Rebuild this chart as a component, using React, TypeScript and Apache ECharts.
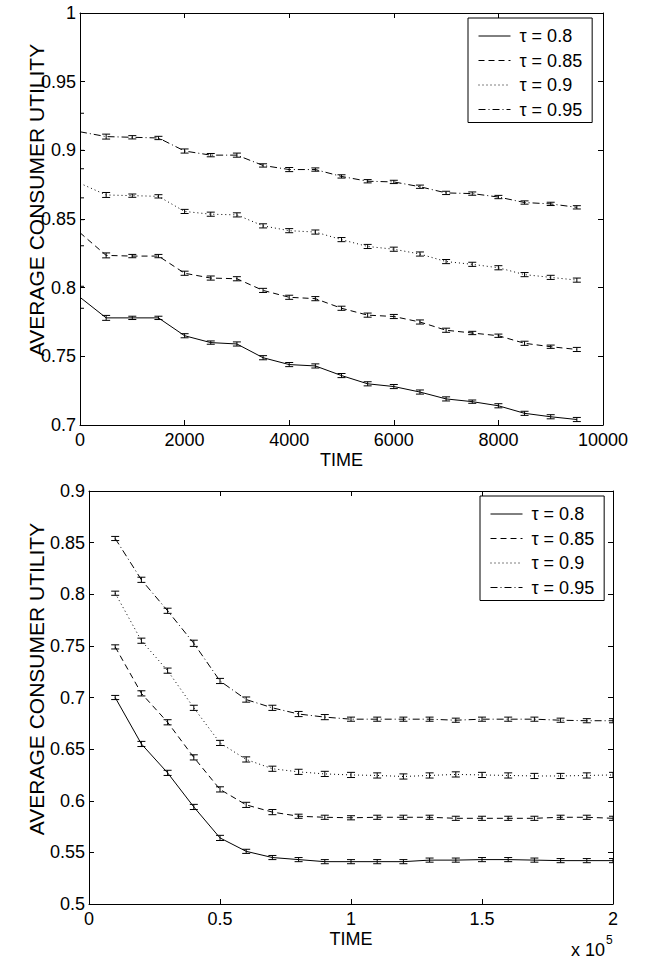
import React, { useEffect, useRef } from "react";
import * as echarts from "echarts";

// ---------- Data ----------
const seriesNames = ["τ = 0.8", "τ = 0.85", "τ = 0.9", "τ = 0.95"];

// Top panel: time 0 .. 9500
const timeTop = [0, 500, 1000, 1500, 2000, 2500, 3000, 3500, 4000, 4500, 5000, 5500, 6000, 6500, 7000, 7500, 8000, 8500, 9000, 9500];
const top080 = [0.793, 0.778, 0.778, 0.778, 0.765, 0.760, 0.759, 0.749, 0.744, 0.743, 0.736, 0.730, 0.728, 0.724, 0.719, 0.717, 0.714, 0.7085, 0.706, 0.704];
const top085 = [0.840, 0.8235, 0.823, 0.823, 0.8105, 0.807, 0.8065, 0.798, 0.793, 0.792, 0.785, 0.780, 0.779, 0.775, 0.769, 0.767, 0.765, 0.7595, 0.757, 0.755];
const top090 = [0.876, 0.8675, 0.867, 0.8665, 0.8555, 0.8535, 0.853, 0.845, 0.8415, 0.8405, 0.835, 0.830, 0.828, 0.8245, 0.819, 0.817, 0.8145, 0.8095, 0.8075, 0.8055];
const top095 = [0.9135, 0.910, 0.9095, 0.909, 0.8995, 0.8965, 0.8965, 0.889, 0.886, 0.886, 0.881, 0.8775, 0.877, 0.8735, 0.869, 0.8685, 0.866, 0.862, 0.861, 0.8585];
const topErr080 = [0.008, 0.0018, 0.0012, 0.0012, 0.0015, 0.0012, 0.0015, 0.0015, 0.0015, 0.0015, 0.0015, 0.0015, 0.0015, 0.0015, 0.0015, 0.0012, 0.0015, 0.0015, 0.0015, 0.0015];
const topErr085 = [0.0095, 0.0018, 0.0012, 0.0012, 0.0015, 0.0015, 0.0015, 0.0015, 0.0015, 0.0015, 0.0015, 0.0015, 0.0015, 0.0015, 0.0015, 0.0012, 0.0012, 0.0015, 0.0012, 0.0015];
const topErr090 = [0.0106, 0.0018, 0.0012, 0.0012, 0.0015, 0.0015, 0.0015, 0.0015, 0.0015, 0.0015, 0.0015, 0.0015, 0.0015, 0.0015, 0.0015, 0.0015, 0.0015, 0.0015, 0.0015, 0.0015];
const topErr095 = [0.0135, 0.0018, 0.0012, 0.0012, 0.0015, 0.0012, 0.0015, 0.0012, 0.0015, 0.0012, 0.0012, 0.0012, 0.0012, 0.0012, 0.0012, 0.0012, 0.0012, 0.0012, 0.0012, 0.0012];

// Bottom panel: time 1e4 .. 2e5
const timeBottom = [10000, 20000, 30000, 40000, 50000, 60000, 70000, 80000, 90000, 100000, 110000, 120000, 130000, 140000, 150000, 160000, 170000, 180000, 190000, 200000];
const bot080 = [0.700, 0.655, 0.627, 0.594, 0.564, 0.551, 0.545, 0.543, 0.541, 0.541, 0.541, 0.541, 0.5425, 0.5425, 0.543, 0.543, 0.5425, 0.542, 0.542, 0.542];
const bot085 = [0.749, 0.704, 0.676, 0.642, 0.611, 0.596, 0.589, 0.585, 0.584, 0.5835, 0.584, 0.584, 0.584, 0.583, 0.583, 0.583, 0.583, 0.584, 0.584, 0.583];
const bot090 = [0.801, 0.755, 0.726, 0.690, 0.656, 0.640, 0.631, 0.628, 0.626, 0.625, 0.6245, 0.6235, 0.6245, 0.6255, 0.625, 0.6245, 0.624, 0.624, 0.6245, 0.625];
const bot095 = [0.854, 0.814, 0.784, 0.7525, 0.716, 0.698, 0.690, 0.684, 0.681, 0.679, 0.679, 0.679, 0.679, 0.678, 0.679, 0.679, 0.679, 0.678, 0.6775, 0.6775];
const botErr080 = [0.002, 0.0025, 0.0025, 0.0025, 0.0025, 0.002, 0.002, 0.002, 0.002, 0.002, 0.002, 0.002, 0.002, 0.002, 0.002, 0.002, 0.002, 0.002, 0.002, 0.002];
const botErr085 = [0.002, 0.0025, 0.0025, 0.0025, 0.0025, 0.0025, 0.0025, 0.002, 0.002, 0.002, 0.002, 0.002, 0.002, 0.002, 0.002, 0.002, 0.002, 0.002, 0.002, 0.002];
const botErr090 = [0.002, 0.0025, 0.0025, 0.0025, 0.0025, 0.0025, 0.0025, 0.0025, 0.0025, 0.0025, 0.0025, 0.0025, 0.0025, 0.0025, 0.0025, 0.0025, 0.0025, 0.0025, 0.0025, 0.0025];
const botErr095 = [0.002, 0.0025, 0.0025, 0.003, 0.0025, 0.0025, 0.0025, 0.0025, 0.0025, 0.002, 0.002, 0.002, 0.002, 0.002, 0.002, 0.002, 0.002, 0.002, 0.002, 0.002];

const yTitle = "AVERAGE CONSUMER UTILITY";
const xTitle = "TIME";

// ---------- Styles ----------
const FONT = "'Liberation Sans', Arial, Helvetica, sans-serif";
const dashTypes: any[] = ["solid", [6, 4], [1, 3], [7, 3, 1, 3]];

function lineSeries(name: string, xs: number[], ys: number[], idx: number, dash: any) {
  return {
    type: "line",
    name,
    xAxisIndex: idx,
    yAxisIndex: idx,
    data: xs.map((x, i) => [x, ys[i]]),
    symbol: "none",
    showSymbol: false,
    color: "#000",
    lineStyle: { color: "#000", width: 1, type: dash },
    itemStyle: { color: "#000" },
    z: 2,
    clip: true,
  };
}

function errSeries(xs: number[], ys: number[], es: number[], idx: number) {
  return {
    type: "custom",
    xAxisIndex: idx,
    yAxisIndex: idx,
    clip: true,
    silent: true,
    z: 3,
    encode: { x: 0, y: 1 },
    data: xs.map((x, i) => [x, ys[i], es[i]]),
    renderItem: (params: any, api: any) => {
      const x = api.value(0);
      const y = api.value(1);
      const e = api.value(2);
      const hi = api.coord([x, y + e]);
      const lo = api.coord([x, y - e]);
      const w = 4;
      const st = { stroke: "#000", lineWidth: 1, fill: null };
      return {
        type: "group",
        children: [
          { type: "line", shape: { x1: hi[0], y1: hi[1], x2: lo[0], y2: lo[1] }, style: st },
          { type: "line", shape: { x1: hi[0] - w, y1: hi[1], x2: hi[0] + w, y2: hi[1] }, style: st },
          { type: "line", shape: { x1: lo[0] - w, y1: lo[1], x2: lo[0] + w, y2: lo[1] }, style: st },
        ],
      };
    },
  };
}

function axisPair(gridIndex: number, min: number, max: number, interval: number, fmt: (v: number) => string) {
  const base = {
    type: "value",
    gridIndex,
    min,
    max,
    interval,
    splitLine: { show: false },
    axisLine: { show: true, onZero: false, lineStyle: { color: "#000", width: 1 } },
    axisTick: { show: true, inside: true, length: 5, lineStyle: { color: "#000" } },
  };
  return [
    {
      ...base,
      position: "bottom",
      axisLabel: {
        show: true,
        color: "#000",
        fontSize: 18,
        fontFamily: FONT,
        margin: 6,
        formatter: fmt,
      },
    },
    { ...base, position: "top", axisLabel: { show: false } },
  ];
}

function yAxisPair(gridIndex: number, min: number, max: number, interval: number) {
  const base = {
    type: "value",
    gridIndex,
    min,
    max,
    interval,
    splitLine: { show: false },
    axisLine: { show: true, onZero: false, lineStyle: { color: "#000", width: 1 } },
    axisTick: { show: true, inside: true, length: 5, lineStyle: { color: "#000" } },
  };
  return [
    {
      ...base,
      position: "left",
      axisLabel: { show: true, color: "#000", fontSize: 18, fontFamily: FONT, margin: 4 },
    },
    { ...base, position: "right", axisLabel: { show: false } },
  ];
}

function legendAt(left: number, top: number) {
  return {
    show: true,
    orient: "vertical",
    left,
    top,
    data: seriesNames,
    selectedMode: false,
    backgroundColor: "#fff",
    borderColor: "#000",
    borderWidth: 1,
    padding: [9, 10, 4, 10],
    itemWidth: 32,
    itemHeight: 14,
    itemGap: 6.5,
    itemStyle: { opacity: 0, borderWidth: 0 },
    lineStyle: { color: "#000", width: 1 },
    textStyle: { color: "#000", fontSize: 18, fontFamily: FONT, padding: [0, 0, 0, 4] },
  };
}

export default function App() {
  const ref = useRef<HTMLDivElement>(null);

  useEffect(() => {
    if (!ref.current) return;
    const chart = echarts.init(ref.current, undefined, { renderer: "svg" });

    const topX = axisPair(0, 0, 10000, 2000, (v: number) => String(v));
    const botX = axisPair(1, 0, 200000, 50000, (v: number) => String(v / 100000));
    const topY = yAxisPair(0, 0.7, 1, 0.05);
    const botY = yAxisPair(1, 0.5, 0.9, 0.05);

    const topYs = [top080, top085, top090, top095];
    const topEs = [topErr080, topErr085, topErr090, topErr095];
    const botYs = [bot080, bot085, bot090, bot095];
    const botEs = [botErr080, botErr085, botErr090, botErr095];

    const series: any[] = [];
    seriesNames.forEach((n, i) => series.push(lineSeries(n, timeTop, topYs[i], 0, dashTypes[i])));
    seriesNames.forEach((n, i) => series.push(lineSeries(n, timeBottom, botYs[i], 2, dashTypes[i])));
    seriesNames.forEach((n, i) => series.push(errSeries(timeTop, topYs[i], topEs[i], 0)));
    seriesNames.forEach((n, i) => series.push(errSeries(timeBottom, botYs[i], botEs[i], 2)));

    const option: any = {
      animation: false,
      backgroundColor: "#fff",
      textStyle: { fontFamily: FONT },
      grid: [
        { left: 80, top: 13, width: 523, height: 412, containLabel: false },
        { left: 89, top: 491, width: 524, height: 413, containLabel: false },
      ],
      xAxis: [topX[0], topX[1], botX[0], botX[1]],
      yAxis: [topY[0], topY[1], botY[0], botY[1]],
      legend: [legendAt(468, 18), legendAt(480, 496)],
      series,
      graphic: [
        {
          type: "text",
          x: 36,
          y: 200,
          rotation: Math.PI / 2,
          style: { text: yTitle, fontSize: 21, fontFamily: FONT, fill: "#000", align: "center", verticalAlign: "middle" },
        },
        {
          type: "text",
          x: 36,
          y: 679,
          rotation: Math.PI / 2,
          style: { text: yTitle, fontSize: 21, fontFamily: FONT, fill: "#000", align: "center", verticalAlign: "middle" },
        },
        {
          type: "text",
          x: 341.5,
          y: 460,
          style: { text: xTitle, fontSize: 18, fontFamily: FONT, fill: "#000", align: "center", verticalAlign: "middle" },
        },
        {
          type: "text",
          x: 351,
          y: 939,
          style: { text: xTitle, fontSize: 18, fontFamily: FONT, fill: "#000", align: "center", verticalAlign: "middle" },
        },
        {
          type: "text",
          x: 571,
          y: 950,
          style: { text: "x 10", fontSize: 18, fontFamily: FONT, fill: "#000", align: "left", verticalAlign: "middle" },
        },
        {
          type: "text",
          x: 606,
          y: 940,
          style: { text: "5", fontSize: 12, fontFamily: FONT, fill: "#000", align: "left", verticalAlign: "middle" },
        },
      ],
    };

    chart.setOption(option);
    return () => chart.dispose();
  }, []);

  return (
    <div
      ref={ref}
      style={{ position: "absolute", left: 0, top: 0, width: 645, height: 959, background: "#fff" }}
    />
  );
}
